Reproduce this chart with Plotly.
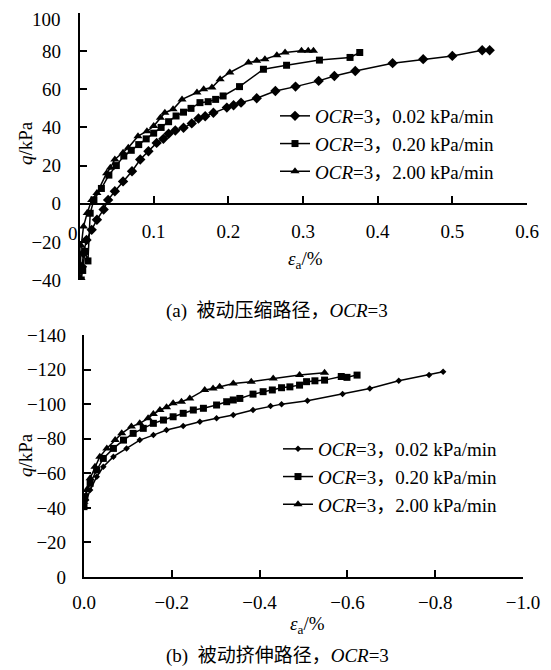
import plotly.graph_objects as go

# ---------------- data: (a) passive compression, OCR=3 ----------------
a_x_002 = [0.002, 0.004, 0.006, 0.010, 0.017, 0.024, 0.033, 0.039, 0.048, 0.059, 0.071, 0.082,
           0.093, 0.104, 0.113, 0.120, 0.129, 0.140, 0.151, 0.160, 0.169, 0.180, 0.198, 0.207,
           0.217, 0.238, 0.263, 0.290, 0.321, 0.342, 0.370, 0.420, 0.461, 0.500, 0.540, 0.550]
a_q_002 = [-40, -33, -26, -19, -13.7, -8.4, -3, 2, 6.5, 11.7, 17, 23.2,
           27.5, 31.9, 34, 36.7, 38.4, 39.8, 42.1, 44.7, 45.9, 47.7, 50.4, 51.6,
           53, 55.3, 59.1, 61.4, 64.4, 67, 69.6, 73.7, 75.8, 77.5, 80.5, 80.5]

a_x_020 = [0.003, 0.005, 0.008, 0.012, 0.015, 0.020, 0.030, 0.040, 0.050, 0.060, 0.070, 0.080,
           0.090, 0.100, 0.110, 0.120, 0.130, 0.140, 0.150, 0.162, 0.173, 0.183, 0.193, 0.215,
           0.247, 0.278, 0.322, 0.363, 0.376]
a_q_020 = [-40, -35, -25, -30, -5, 2, 8, 15, 20, 25, 28, 31,
           34, 37, 40, 43, 46, 48, 50, 53, 53.5, 54.7, 56.5, 61.4,
           70.5, 72.6, 75.3, 76.7, 79.3]

a_x_200 = [0.001, 0.002, 0.003, 0.006, 0.011, 0.017, 0.024, 0.037, 0.042, 0.048, 0.059, 0.066,
           0.079, 0.091, 0.100, 0.109, 0.115, 0.126, 0.138, 0.158, 0.167, 0.178, 0.189, 0.202,
           0.227, 0.238, 0.249, 0.265, 0.276, 0.298, 0.307, 0.314]
a_q_200 = [-40, -33, -22, -12, -4.9, 2, 5.6, 16, 18.8, 23.2, 26.7, 29.3,
           35.4, 38, 40.7, 45.1, 47.7, 49.5, 54.7, 58.3, 60, 60.9, 65.3, 68.8,
           74, 74.9, 75.8, 77.9, 79.3, 80.2, 80.2, 80.2]

# ---------------- data: (b) passive extension, OCR=3 ----------------
b_x_002 = [0, -0.005, -0.014, -0.029, -0.044, -0.067, -0.097, -0.127, -0.158, -0.188, -0.226,
           -0.264, -0.302, -0.340, -0.385, -0.425, -0.450, -0.509, -0.589, -0.651, -0.717,
           -0.786, -0.818]
b_q_002 = [-40.7, -44.5, -50.3, -58, -63.8, -69.6, -74.4, -79.2, -82.1, -85, -87.3,
           -89.8, -91.8, -93.7, -96.6, -98.9, -100, -102, -105.8, -109.1, -113.5,
           -116.8, -118.7]

b_x_020 = [0, -0.002, -0.014, -0.029, -0.044, -0.067, -0.090, -0.112, -0.135, -0.158, -0.181,
           -0.203, -0.226, -0.249, -0.272, -0.302, -0.325, -0.340, -0.355, -0.385, -0.408,
           -0.429, -0.450, -0.469, -0.491, -0.507, -0.526, -0.548, -0.586, -0.599, -0.622]
b_q_020 = [-40.7, -46.5, -54.2, -61.9, -68.6, -74.4, -79.2, -83.1, -86, -88.9, -90.8,
           -92.7, -94.7, -96.6, -97.6, -99.5, -101.4, -102.4, -103.3, -105.8, -107.2,
           -108.2, -109.5, -110, -111, -113, -113.5, -113.9, -116, -115.5, -116.8]

b_x_200 = [0, -0.006, -0.014, -0.025, -0.036, -0.052, -0.071, -0.086, -0.108, -0.127, -0.146,
           -0.158, -0.173, -0.188, -0.203, -0.222, -0.241, -0.275, -0.294, -0.309, -0.340,
           -0.381, -0.431, -0.491, -0.548]
b_q_200 = [-43.5, -50.3, -57.1, -63.8, -69.6, -74.4, -79.2, -83.1, -87, -88.9, -91.8,
           -94.3, -96.6, -98.2, -100.5, -101.4, -103.3, -108.2, -109.1, -110, -112,
           -113, -114.9, -116.8, -118.2]

series_names = ["<i>OCR</i>=3，0.02 kPa/min",
                "<i>OCR</i>=3，0.20 kPa/min",
                "<i>OCR</i>=3，2.00 kPa/min"]

a_xticks = [0, 0.1, 0.2, 0.3, 0.4, 0.5, 0.6]
a_xticktext = ["0", "0.1", "0.2", "0.3", "0.4", "0.5", "0.6"]
a_yticks = [-40, -20, 0, 20, 40, 60, 80, 100]
a_yticktext = ["−40", "−20", "0", "20", "40", "60", "80", "100"]

b_xticks = [0, -0.2, -0.4, -0.6, -0.8, -1.0]
b_xticktext = ["0.0", "−0.2", "−0.4", "−0.6", "−0.8", "−1.0"]
b_yticks = [0, -20, -40, -60, -80, -100, -120, -140]
b_yticktext = ["0", "−20", "−40", "−60", "−80", "−100", "−120", "−140"]

FONT = "'Liberation Serif', 'Noto Sans CJK SC', serif"
BLACK = "#000000"
FS = 19

fig = go.Figure()

# (a)
a_sets = [(a_x_002, a_q_002, "diamond", 8), (a_x_020, a_q_020, "square", 7), (a_x_200, a_q_200, "triangle-up", 8)]
for (xs, ys, sym, sz), nm in zip(a_sets, series_names):
    fig.add_trace(go.Scatter(x=xs, y=ys, mode="lines+markers", name=nm,
                             line=dict(color=BLACK, width=1.5),
                             marker=dict(symbol=sym, size=sz, color=BLACK),
                             xaxis="x", yaxis="y", legend="legend"))

# (b)
b_sets = [(b_x_002, b_q_002, "diamond", 5), (b_x_020, b_q_020, "square", 7), (b_x_200, b_q_200, "triangle-up", 8)]
for (xs, ys, sym, sz), nm in zip(b_sets, series_names):
    fig.add_trace(go.Scatter(x=xs, y=ys, mode="lines+markers", name=nm,
                             line=dict(color=BLACK, width=1.5),
                             marker=dict(symbol=sym, size=sz, color=BLACK),
                             xaxis="x2", yaxis="y2", legend="legend2"))

# page body has an 8px margin; the figure fills the rest of the 551x670 window
OFF = 8
W, H = 551 - OFF, 670 - OFF


def px(x):
    return (x - OFF) / W


def py(y):
    return 1 - (y - OFF) / H


a_dom_x = [px(79), px(527)]
a_dom_y = [py(280), py(13)]
b_dom_x = [px(84), px(523)]
b_dom_y = [py(577), py(335)]

a_yrange = [-40, 100]
a_zero_pos = a_dom_y[0] + (0 - a_yrange[0]) / (a_yrange[1] - a_yrange[0]) * (a_dom_y[1] - a_dom_y[0])

# the first x label ("0") and the top y label ("100") of panel (a) are drawn
# slightly offset as in the original (to stay clear of the axis / page edge)
a_xticktext_drawn = [""] + a_xticktext[1:]
a_yticktext_drawn = a_yticktext[:-1] + [""]

axis_common = dict(showgrid=False, zeroline=False, showline=True, linecolor=BLACK, linewidth=2.2,
                   ticks="inside", ticklen=7, tickwidth=1.5, tickcolor=BLACK, automargin=False,
                   ticklabeloverflow="allow",
                   tickfont=dict(family=FONT, size=FS, color=BLACK), tickmode="array")

fig.update_layout(
    template="none",
    width=W, height=H,
    margin=dict(l=0, r=0, t=0, b=0, pad=0),
    paper_bgcolor="white", plot_bgcolor="white",
    font=dict(family=FONT, size=FS, color=BLACK),
    xaxis=dict(domain=a_dom_x, range=[0, 0.6], anchor="free", position=a_zero_pos,
               tickvals=a_xticks, ticktext=a_xticktext_drawn, ticklabelstandoff=10, **axis_common),
    yaxis=dict(domain=a_dom_y, range=a_yrange, anchor="free", position=a_dom_x[0],
               tickvals=a_yticks, ticktext=a_yticktext_drawn, ticklabelstandoff=13, **axis_common),
    xaxis2=dict(domain=b_dom_x, range=[0, -1.0], anchor="y2",
                tickvals=b_xticks, ticktext=b_xticktext, ticklabelstandoff=7, **axis_common),
    yaxis2=dict(domain=b_dom_y, range=[0, -140], anchor="x2",
                tickvals=b_yticks, ticktext=b_yticktext, ticklabelstandoff=12, **axis_common),
    legend=dict(x=px(275), y=py(97), xanchor="left", yanchor="top",
                bgcolor="rgba(0,0,0,0)", font=dict(family=FONT, size=FS, color=BLACK),
                itemwidth=30, tracegroupgap=0),
    legend2=dict(x=px(278), y=py(430), xanchor="left", yanchor="top",
                 bgcolor="rgba(0,0,0,0)", font=dict(family=FONT, size=FS, color=BLACK),
                 itemwidth=30, tracegroupgap=0),
    showlegend=True,
)

ann_font = dict(family=FONT, size=FS, color=BLACK)
annotations = [
    dict(text="<i>q</i>/kPa", x=px(25), y=py(143), textangle=-90, font=ann_font),
    dict(text="<i>ε</i><sub>a</sub>/%", x=px(305), y=py(260), font=ann_font),
    dict(text="(a)  被动压缩路径，<i>OCR</i>=3", x=px(277), y=py(311), font=ann_font),
    dict(text="<i>q</i>/kPa", x=px(25), y=py(455), textangle=-90, font=ann_font),
    dict(text="<i>ε</i><sub>a</sub>/%", x=px(307), y=py(625), font=ann_font),
    dict(text="(b)  被动挤伸路径，<i>OCR</i>=3", x=px(277), y=py(656), font=ann_font),
    dict(text=a_xticktext[0], x=px(73), y=py(234), font=ann_font),
]
for a in annotations:
    fig.add_annotation(xref="paper", yref="paper", showarrow=False,
                       xanchor="center", yanchor="middle", **a)
fig.add_annotation(xref="paper", yref="paper", showarrow=False, xanchor="right", yanchor="middle",
                   text=a_yticktext[-1], x=px(63), y=py(19), font=ann_font)

fig.write_html("out.html")
